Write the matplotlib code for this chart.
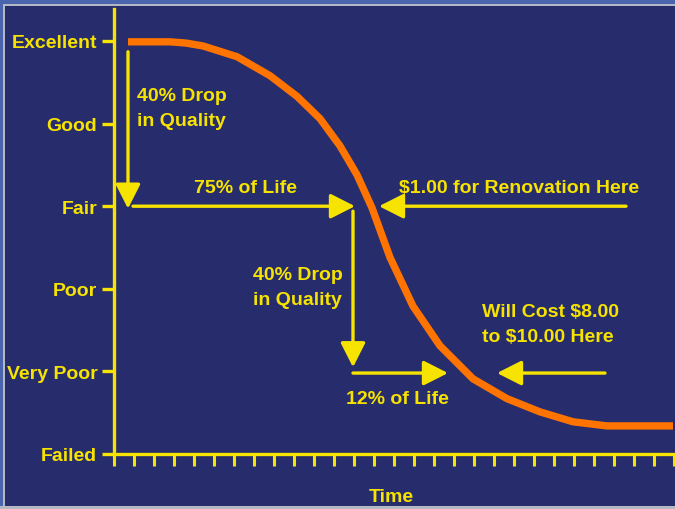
import matplotlib
matplotlib.use("Agg")
import matplotlib.pyplot as plt
from matplotlib.patches import Rectangle

# ---- data ----
quality_labels = ["Failed", "Very Poor", "Poor", "Fair", "Good", "Excellent"]
quality_levels = [0, 1, 2, 3, 4, 5]
time_ticks = list(range(0, 29))

curve_x = [0.7, 2.8, 3.6, 4.45, 6.15, 7.8, 9.15, 10.3, 11.3, 12.15, 12.9,
           13.8, 14.95, 16.3, 17.95, 19.65, 21.3, 22.95, 24.65, 27.95]
curve_y = [4.99, 4.99, 4.975, 4.94, 4.81, 4.58, 4.33, 4.06, 3.73, 3.38, 2.98,
           2.38, 1.79, 1.31, 0.91, 0.67, 0.51, 0.39, 0.34, 0.34]

# arrows: (tail, tip)
arrows = [
    ((0.7, 4.87), (0.7, 2.97)),
    ((0.95, 3.0), (12.05, 3.0)),
    ((25.6, 3.0), (13.25, 3.0)),
    ((11.95, 2.94), (11.95, 1.05)),
    ((11.95, 0.98), (16.7, 0.98)),
    ((24.55, 0.98), (19.15, 0.98)),
]

labels = [
    ("40% Drop\nin Quality", 1.15, 4.19, "left"),
    ("75% of Life", 6.55, 3.23, "center"),
    ("$1.00 for Renovation Here", 20.25, 3.23, "center"),
    ("40% Drop\nin Quality", 6.95, 2.02, "left"),
    ("12% of Life", 14.15, 0.67, "center"),
    ("Will Cost $8.00\nto $10.00 Here", 18.4, 1.57, "left"),
]

NAVY = "#262c6c"
YELLOW = "#f7e300"
ORANGE = "#ff7400"
FONT = ["Liberation Sans", "DejaVu Sans"]

plt.rcParams["font.family"] = FONT
plt.rcParams["font.weight"] = "bold"

W, H = 675, 510
fig = plt.figure(figsize=(W / 100, H / 100), dpi=100)
fig.patch.set_facecolor(NAVY)

# frame decoration
fig.patches.append(Rectangle((0, 1 - 5 / H), 1, 5 / H, transform=fig.transFigure,
                             facecolor="#4a64ae", edgecolor="none", zorder=0))
fig.patches.append(Rectangle((0, 1 - 7 / H), 1, 2 / H, transform=fig.transFigure,
                             facecolor="#b4b8c4", edgecolor="none", zorder=0))
fig.patches.append(Rectangle((0, 0), 3 / W, 1, transform=fig.transFigure,
                             facecolor="#4a64ae", edgecolor="none", zorder=0))
fig.patches.append(Rectangle((3 / W, 0), 2 / W, 1 - 5 / H, transform=fig.transFigure,
                             facecolor="#b4b8c4", edgecolor="none", zorder=0))
fig.patches.append(Rectangle((0, 0), 1, 3 / H, transform=fig.transFigure,
                             facecolor="#b4b8c4", edgecolor="none", zorder=0))

x0, y0 = 114, 455
ax = fig.add_axes([x0 / W, (H - y0) / H, (W - x0) / W, (y0 - 10) / H])
ax.set_facecolor("none")
ax.set_xlim(0, (W - x0) / 20)
ax.set_ylim(0, (y0 - 10) / 82.6)

for s in ["top", "right"]:
    ax.spines[s].set_visible(False)
for s in ["left", "bottom"]:
    ax.spines[s].set_color(YELLOW)
    ax.spines[s].set_linewidth(2.4)

ax.set_yticks(quality_levels)
ax.set_yticklabels(quality_labels)
ax.set_xticks(time_ticks)
ax.set_xticklabels([])
ax.tick_params(axis="y", colors=YELLOW, length=9, width=2.4, pad=3,
               labelsize=14, labelcolor=YELLOW)
ax.tick_params(axis="x", colors=YELLOW, length=8.5, width=2.2)
for t in ax.get_yticklabels():
    t.set_fontweight("bold")

ax.plot(curve_x, curve_y, color=ORANGE, lw=5.3, solid_capstyle="butt",
        solid_joinstyle="round", clip_on=False, zorder=3)

for tail, tip in arrows:
    ax.annotate("", xy=tip, xytext=tail,
                arrowprops=dict(arrowstyle="-|>,head_length=0.75,head_width=0.38",
                                mutation_scale=20, lw=2.4, color=YELLOW,
                                shrinkA=0, shrinkB=0), zorder=4)

for txt, x, y, ha in labels:
    ax.text(x, y, txt, ha=ha, va="center", color=YELLOW, fontsize=14,
            fontweight="bold", linespacing=1.6, zorder=5)

ax.text(13.85, -0.51, "Time", ha="center", va="center", color=YELLOW,
        fontsize=14, fontweight="bold", clip_on=False)

fig.savefig("out.png", dpi=100, facecolor=fig.get_facecolor())
